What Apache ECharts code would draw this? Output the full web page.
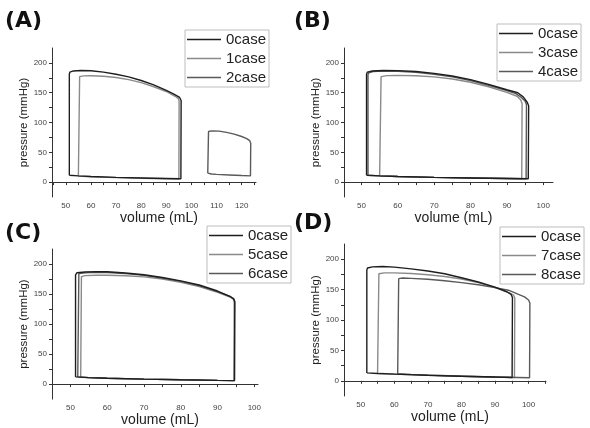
<!DOCTYPE html>
<html>
<head>
<meta charset="utf-8">
<script src="https://cdn.jsdelivr.net/npm/echarts@6/dist/echarts.min.js"></script>
<style>
  html, body { margin: 0; padding: 0; background: #fff; }
  #main { width: 590px; height: 428px; }
</style>
</head>
<body>
<div id="main"></div>
<script>
// PV loops, points are [volume (mL), pressure (mmHg)]
var a0 = [[51.4,11.5],[55,10.5],[60,9.3],[70,8],[80,7],[90,6],[95.8,5.5],[95.9,6],[95.9,137],[95.3,142],[93,147.5],[90,154],[85,163],[80,170.5],[75,176.5],[70,181],[65,184.5],[60,186.8],[56,187.3],[53,186.5],[51.6,184.5],[51.4,181],[51.4,11.5]];
var a1 = [[55,10],[60,9],[70,7.5],[80,6.5],[90,5.5],[95,5],[95.1,5.5],[95.1,136],[94.8,140],[93.5,144],[90,152],[85,160],[80,167],[75,172],[70,175.5],[65,177.5],[60,178.5],[57,178.3],[55.5,177],[55.1,174],[55,10]];
var a2 = [[106.5,15],[108,13.5],[110,13],[115,12],[120,11],[123.5,10.5],[123.6,11],[123.6,65],[123.2,69.5],[122,73],[120,76.5],[117,80.5],[114,83.5],[111,85.5],[108,86],[106.8,85],[106.5,82],[106.5,15]];

var b0 = [[51.4,11.5],[55,10.5],[60,9.5],[70,8],[80,7],[90,6],[95.9,5.5],[96,6],[96,128],[95.6,134],[94.5,143],[93,150],[90,155],[85,164],[80,172],[75,178],[70,182.5],[65,185.5],[60,187],[56,187.3],[53,186.5],[51.6,184.5],[51.4,181],[51.4,11.5]];
var b3 = [[55,10.5],[60,9.5],[70,8],[80,7],[90,6],[94.1,5.5],[94.2,6],[94.2,132],[93.8,138],[92.8,144],[90,150.5],[85,160],[80,167.5],[75,173],[70,176.5],[65,178.5],[60,179],[57,178.7],[55.4,177],[55.1,174],[55,10.5]];
var b4 = [[51.8,11.5],[55,10.5],[60,9.5],[70,8],[80,7],[90,6],[95.3,5.5],[95.4,6],[95.4,130],[95,136],[94,142],[92.5,148.5],[90,153.5],[85,162.5],[80,170.5],[75,176.5],[70,181],[65,184.3],[60,186],[56,186.5],[53.2,185.5],[52,183.5],[51.8,180],[51.8,11.5]];

var c0 = [[51.4,12],[55,10.8],[60,9.8],[70,8.3],[80,7.2],[90,6.2],[94.6,5.8],[94.7,6],[94.7,137],[94.4,142],[93.5,145.5],[90,155],[85,165],[80,172],[75,177.5],[70,182],[65,185],[60,187],[57,187.4],[54,186.8],[51.8,185.5],[51.4,182],[51.4,12]];
var c5 = [[52.8,11.5],[55,10.8],[60,9.8],[70,8.3],[80,7.2],[90,6.2],[94.5,5.8],[94.6,6],[94.6,137],[94.3,141.5],[93.4,145],[90,153],[85,162.5],[80,169.5],[75,175],[70,178.5],[65,180.5],[60,181.3],[57,181.3],[54,180.7],[53,179],[52.8,176],[52.8,11.5]];
var c6 = [[52,12],[55,10.8],[60,9.8],[70,8.3],[80,7.2],[90,6.2],[94.6,5.8],[94.6,6],[94.6,138],[94.3,142.5],[93.4,146],[90,154],[85,164],[80,171],[75,176.5],[70,181],[65,184],[60,185.8],[57,186],[54,185.3],[52.3,184],[52,181],[52,12]];

var d0 = [[51.8,13],[55,12],[60,11],[70,9],[80,7.5],[90,6.2],[95.1,5.5],[95.2,6],[95.2,137],[94.8,142],[93.5,146.5],[90,154],[85,162.5],[80,169.5],[75,176],[70,180.5],[65,184],[60,187],[56.5,188],[53.5,187.3],[52,185.5],[51.8,182],[51.8,13]];
var d7 = [[55,12.5],[60,11],[70,9],[80,7.5],[90,6],[95.8,5.3],[95.9,6],[95.9,136],[95.5,141],[94,145.5],[90,153.5],[85,161.5],[80,167.5],[75,171.5],[70,174.5],[65,176.5],[60,177.5],[57,177.5],[55.4,176],[55,173],[55,12.5]];
var d8 = [[61,11.5],[65,10.5],[70,9.5],[80,7.5],[90,6.2],[100.3,5],[100.4,6],[100.4,128],[100,133],[98.8,138],[97,142],[94,149],[90,153.3],[85,158],[80,161.5],[75,164.5],[70,167],[65,168.5],[62.5,169],[61.3,168],[61,165],[61,11.5]];

var panelTitles = ['(A)', '(B)', '(C)', '(D)'];
var legendA = ['0case', '1case', '2case'];
var legendB = ['0case', '3case', '4case'];
var legendC = ['0case', '5case', '6case'];
var legendD = ['0case', '7case', '8case'];
var yLabels = [0, 50, 100, 150, 200];
var yTicks = [0, 25, 50, 75, 100, 125, 150, 175, 200];
var xLabelsA = [50, 60, 70, 80, 90, 100, 110, 120];
var xLabels = [50, 60, 70, 80, 90, 100];

var FONT = '"Liberation Sans", Arial, sans-serif';
var DARK = '#1e1e1e', LIGHT = '#8a8a8a', MID = '#5a5a5a';

function fiveTicks(min, max) {
  var out = [];
  for (var v = Math.ceil(min / 5) * 5; v <= max; v += 5) out.push(v);
  return out;
}

function xAxis(i, min, max, labels) {
  return {
    type: 'value', gridIndex: i, min: min, max: max,
    name: 'volume (mL)', nameLocation: 'middle', nameGap: 12,
    nameTextStyle: { fontSize: 14, color: '#222', fontFamily: FONT, padding: [0, 0, 0, 10] },
    axisLine: { lineStyle: { color: '#333', width: 1 } },
    axisTick: { customValues: fiveTicks(min, max), length: 3, lineStyle: { color: '#333' } },
    axisLabel: { customValues: labels, fontSize: 8, color: '#444', margin: 5, fontFamily: FONT },
    splitLine: { show: false }
  };
}

function yAxis(i) {
  return {
    type: 'value', gridIndex: i, min: -25, max: 225,
    name: 'pressure (mmHg)', nameLocation: 'middle', nameGap: 18, nameRotate: 90,
    nameTextStyle: { fontSize: 11.5, color: '#222', fontFamily: FONT },
    axisLine: { show: true, lineStyle: { color: '#333', width: 1 } },
    axisTick: { customValues: yTicks, length: 3, lineStyle: { color: '#333' } },
    axisLabel: { customValues: yLabels, fontSize: 8, color: '#444', margin: 5, fontFamily: FONT },
    splitLine: { show: false }
  };
}

function loop(name, data, i, color) {
  return {
    name: name, type: 'line', xAxisIndex: i, yAxisIndex: i, data: data,
    symbol: 'none', animation: false,
    lineStyle: { color: color, width: 1.4 },
    itemStyle: { color: color }
  };
}

function legend(names, left, top) {
  return {
    data: names, orient: 'vertical', left: left, top: top,
    icon: 'rect', itemWidth: 34, itemHeight: 1.6, itemGap: 4,
    padding: [2, 3, 2, 2], borderColor: '#bdbdbd', borderWidth: 1,
    selectedMode: false,
    textStyle: { fontSize: 15, color: '#222', fontFamily: FONT }
  };
}

function titleAt(text, left, top) {
  return {
    text: text, left: left, top: top, padding: 0,
    textStyle: { fontSize: 22, fontWeight: 'bold', color: '#111', fontFamily: '"DejaVu Sans", sans-serif' }
  };
}

var chart = echarts.init(document.getElementById('main'));
var option = {
  backgroundColor: '#fff',
  animation: false,
  title: [
    titleAt(panelTitles[0], 5, 10),
    titleAt(panelTitles[1], 294, 10),
    titleAt(panelTitles[2], 5, 222),
    titleAt(panelTitles[3], 294, 212)
  ],
  legend: [
    legend(legendA, 185, 30),
    legend(legendB, 497, 24),
    legend(legendC, 207, 226),
    legend(legendD, 500, 227)
  ],
  grid: [
    { left: 52, top: 48, width: 204, height: 149 },
    { left: 344, top: 48, width: 209, height: 149 },
    { left: 52, top: 249, width: 206, height: 151 },
    { left: 344, top: 244, width: 202, height: 152 }
  ],
  xAxis: [
    xAxis(0, 44.5, 125.7, xLabelsA),
    xAxis(1, 45.2, 102.7, xLabels),
    xAxis(2, 45, 101, xLabels),
    xAxis(3, 45, 105.2, xLabels)
  ],
  yAxis: [yAxis(0), yAxis(1), yAxis(2), yAxis(3)],
  series: [
    loop('1case', a1, 0, LIGHT), loop('2case', a2, 0, MID), loop('0case', a0, 0, DARK),
    loop('3case', b3, 1, LIGHT), loop('4case', b4, 1, MID), loop('0case', b0, 1, DARK),
    loop('5case', c5, 2, LIGHT), loop('6case', c6, 2, MID), loop('0case', c0, 2, DARK),
    loop('7case', d7, 3, LIGHT), loop('8case', d8, 3, MID), loop('0case', d0, 3, DARK)
  ]
};
chart.setOption(option);
</script>
</body>
</html>
